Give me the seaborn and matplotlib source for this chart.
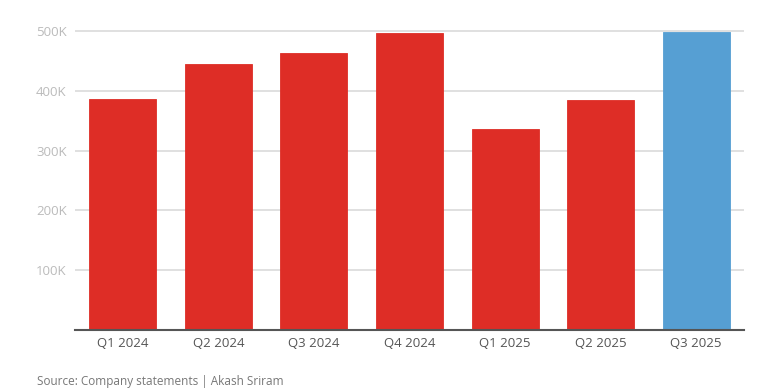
import matplotlib
matplotlib.use("Agg")
import matplotlib.pyplot as plt
import seaborn as sns
import pandas as pd
from matplotlib.ticker import FuncFormatter

quarters = ["Q1 2024", "Q2 2024", "Q3 2024", "Q4 2024", "Q1 2025", "Q2 2025", "Q3 2025"]
deliveries = [386800, 444400, 463800, 495900, 336000, 384100, 497900]
bar_colors = ["#DE2D26"] * 6 + ["#569FD3"]
y_ticks = [100000, 200000, 300000, 400000, 500000]
y_tick_labels = ["100K", "200K", "300K", "400K", "500K"]
source = "Source: Company statements | Akash Sriram"

df = pd.DataFrame({"quarter": quarters, "value": deliveries})

sns.set_theme(style="white")
plt.rcParams["font.family"] = ["Open Sans", "DejaVu Sans"]

W, H = 771, 390
fig = plt.figure(figsize=(W / 100, H / 100), dpi=100)
left, right, bottom_px, top_px = 75, 744, 329.7, 19.1
ax = fig.add_axes([left / W, 1 - bottom_px / H, (right - left) / W, (bottom_px - top_px) / H])

sns.barplot(data=df, x="quarter", y="value", hue="quarter", palette=bar_colors,
            width=0.70, legend=False, ax=ax, saturation=1, zorder=3,
            edgecolor="none")
for p, c in zip(ax.patches, bar_colors):
    p.set_edgecolor(c)
    p.set_linewidth(0.6)

ax.set_xlim(-0.5, len(quarters) - 0.5)
ax.set_ylim(0, 520000)
ax.set_yticks(y_ticks)
ax.set_yticklabels(y_tick_labels)
ax.yaxis.grid(True, color="#DDDDDD", linewidth=1.3, zorder=0)
ax.set_axisbelow(True)
for s in ["top", "right", "left"]:
    ax.spines[s].set_visible(False)
ax.spines["bottom"].set_color("#555555")
ax.spines["bottom"].set_linewidth(1.5)
ax.spines["bottom"].set_zorder(5)
ax.tick_params(axis="y", length=0, pad=6, labelsize=9.5, labelcolor="#BBBBBB")
ax.tick_params(axis="x", length=0, pad=5, labelsize=9.5, labelcolor="#555555")
ax.set_xlabel("")
ax.set_ylabel("")

fig.text(37 / W, 1 - 381 / H, source, fontsize=8.5, color="#777777", va="center", ha="left")

fig.savefig("out.png", dpi=100, facecolor="white")
